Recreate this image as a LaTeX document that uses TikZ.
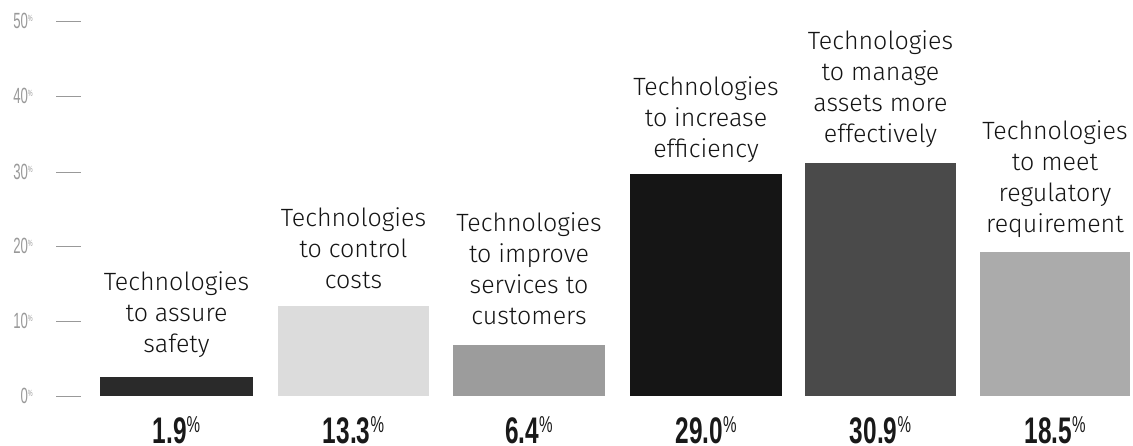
\documentclass[tikz,border=0pt]{standalone}
\usepackage{fontspec}
\setmainfont{Fira Sans}[UprightFont=* Light]
\newfontfamily\pctfont[FakeStretch=0.66]{Liberation Sans}
\newfontfamily\axfont[FakeStretch=0.6]{Liberation Sans}
\newcommand\pcsign{\raisebox{10.5pt}{\fontsize{23}{23}\selectfont\mdseries\%}}
\newcommand\axsign{\raisebox{7pt}{\fontsize{9}{9}\selectfont\%}}
\definecolor{cA}{HTML}{2A2A2A}
\definecolor{cB}{HTML}{DCDCDC}
\definecolor{cC}{HTML}{9C9C9C}
\definecolor{cD}{HTML}{151515}
\definecolor{cE}{HTML}{4A4A4A}
\definecolor{cF}{HTML}{ABABAB}
\tikzset{
  lab/.style={font=\fontsize{25}{31}\selectfont, align=center, anchor=south, inner sep=0pt, text depth=0pt, text=black!92},
  pct/.style={font=\pctfont\bfseries\fontsize{37}{37}\selectfont, anchor=base, inner sep=0pt, text depth=0pt, text=black!90},
  axl/.style={font=\axfont\fontsize{22}{22}\selectfont, text=black!40, anchor=east, inner sep=0pt},
  tickmark/.style={draw=black!40, line width=0.8pt}
}
\begin{document}
\begin{tikzpicture}[x=1pt,y=-1pt]
\useasboundingbox (0,0) rectangle (1133,446);
% axis
\foreach \v/\yy in {50/21,40/96,30/172,20/246,10/321,0/396}{
  \node[axl] (ax\v) at (33,\yy) {\v\axsign};
  \coordinate (ta\v) at (56,\yy);
  \coordinate (tb\v) at (81,\yy);
  \draw[tickmark] (ta\v) -- (tb\v);
}
% bars
\fill[cA] (100,377) rectangle (253,396);
\fill[cB] (278,306) rectangle (429,396);
\fill[cC] (453,345) rectangle (605,396);
\fill[cD] (630,174) rectangle (782,396);
\fill[cE] (805,163) rectangle (956,396);
\fill[cF] (980,252) rectangle (1130,396);
% labels
\node[lab] (l1) at (176.5,353) {Technologies\\to assure\\safety};
\node[lab] (l2) at (353.5,289) {Technologies\\to control\\costs};
\node[lab] (l3) at (529,325) {Technologies\\to improve\\services to\\customers};
\node[lab] (l4) at (706,158) {Technologies\\to increase\\efficiency};
\node[lab] (l5) at (880.5,143) {Technologies\\to manage\\assets more\\effectively};
\node[lab] (l6) at (1055,233) {Technologies\\to meet\\regulatory\\requirement};
% percentages
\node[pct] (p1) at (176.5,443) {1.9\pcsign};
\node[pct] (p2) at (353.5,443) {13.3\pcsign};
\node[pct] (p3) at (529,443) {6.4\pcsign};
\node[pct] (p4) at (706,443) {29.0\pcsign};
\node[pct] (p5) at (880.5,443) {30.9\pcsign};
\node[pct] (p6) at (1055,443) {18.5\pcsign};
\end{tikzpicture}
\end{document}
